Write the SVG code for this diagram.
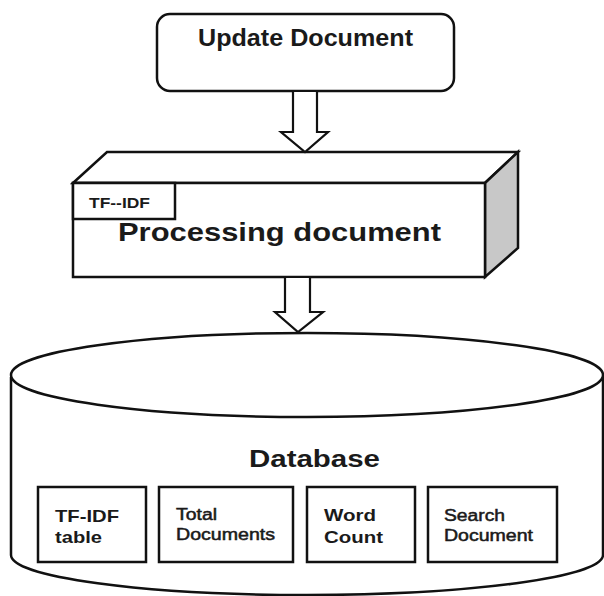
<svg xmlns="http://www.w3.org/2000/svg" width="604" height="596" viewBox="0 0 604 596">
  <style>
    .line { fill: none; stroke: #111; stroke-width: 2.2; stroke-linejoin: miter; }
    .box { fill: #fff; stroke: #111; stroke-width: 2.5; }
    .arrow { fill: #fff; stroke: #111; stroke-width: 2.2; stroke-linejoin: miter; }
    .t { font-family: "Liberation Sans", Arial, sans-serif; fill: #1a1a1a; }
    .b { font-weight: bold; }
    .r { font-weight: normal; stroke: #1a1a1a; stroke-width: 0.5; }
  </style>

  <rect width="604" height="596" fill="#fff"/>

  <!-- Database cylinder -->
  <g id="database">
    <path class="box" d="M11,377 L11,555 A296,40 0 0,0 603,555 L603,373"/>
    <ellipse class="box" cx="307" cy="375" rx="296" ry="42"/>
    <text class="t b" x="314.5" y="467" font-size="23" text-anchor="middle" textLength="131" lengthAdjust="spacingAndGlyphs">Database</text>
  </g>

  <g id="tfidf-table">
    <rect class="box" x="38" y="487" width="108" height="75"/>
    <text class="t b" x="55" y="522" font-size="17" textLength="64" lengthAdjust="spacingAndGlyphs">TF-IDF</text>
    <text class="t b" x="55" y="543" font-size="17" textLength="47" lengthAdjust="spacingAndGlyphs">table</text>
  </g>

  <g id="total-documents">
    <rect class="box" x="159" y="487" width="134" height="75"/>
    <text class="t r" x="176" y="520" font-size="16" textLength="41" lengthAdjust="spacingAndGlyphs">Total</text>
    <text class="t r" x="176" y="540" font-size="16" textLength="99" lengthAdjust="spacingAndGlyphs">Documents</text>
  </g>

  <g id="word-count">
    <rect class="box" x="307" y="487" width="108" height="75"/>
    <text class="t b" x="324" y="521" font-size="17" textLength="52" lengthAdjust="spacingAndGlyphs">Word</text>
    <text class="t b" x="324" y="543" font-size="17" textLength="59" lengthAdjust="spacingAndGlyphs">Count</text>
  </g>

  <g id="search-document">
    <rect class="box" x="428" y="487" width="129" height="75"/>
    <text class="t r" x="444" y="521" font-size="16" textLength="61" lengthAdjust="spacingAndGlyphs">Search</text>
    <text class="t r" x="444" y="541" font-size="16" textLength="89" lengthAdjust="spacingAndGlyphs">Document</text>
  </g>

  <!-- Update Document -->
  <g id="update-document">
    <rect class="box" x="157" y="14" width="297" height="77" rx="13" ry="13"/>
    <text class="t b" x="305.5" y="46" font-size="23" text-anchor="middle" textLength="215" lengthAdjust="spacingAndGlyphs">Update Document</text>
  </g>

  <!-- Processing document (3D block) -->
  <g id="processing-document">
    <polygon class="box" points="73,183 107,152 518,152 485,183"/>
    <polygon class="box" points="485,183 518,152 518,248 485,277" fill="#c8c8c8" style="fill:#c8c8c8"/>
    <rect class="box" x="73" y="183" width="412" height="94"/>
    <rect class="box" x="73" y="183" width="102" height="36"/>
    <text class="t b" x="89" y="208" font-size="15" textLength="61" lengthAdjust="spacingAndGlyphs">TF--IDF</text>
    <text class="t b" x="118" y="241" font-size="25" textLength="323" lengthAdjust="spacingAndGlyphs">Processing document</text>
  </g>

  <!-- Connectors: hollow block arrows -->
  <g id="connectors">
    <polygon class="arrow" points="293,91 317,91 317,132 328,132 305,152 281,132 293,132"/>
    <polygon class="arrow" points="285,277 310,277 310,312 323,312 298,332 275,312 285,312"/>
  </g>
</svg>
